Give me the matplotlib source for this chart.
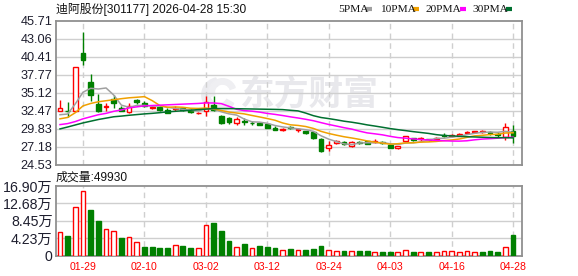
import matplotlib
matplotlib.use("Agg")
import matplotlib.pyplot as plt
from matplotlib.lines import Line2D
from matplotlib.patches import Wedge
import numpy as np

plt.rcParams['font.family'] = ['Liberation Sans', 'Noto Sans CJK SC']

# === DATA ===
dates = ["01-26", "01-27", "01-28", "01-29", "01-30", "02-02", "02-03", "02-04", "02-05", "02-06",
         "02-09", "02-10", "02-11", "02-12", "02-13", "02-24", "02-25", "02-26", "02-27", "03-02",
         "03-03", "03-04", "03-05", "03-06", "03-09", "03-10", "03-11", "03-12", "03-13", "03-16",
         "03-17", "03-18", "03-19", "03-20", "03-23", "03-24", "03-25", "03-26", "03-27", "03-30",
         "03-31", "04-01", "04-02", "04-03", "04-07", "04-08", "04-09", "04-10", "04-13", "04-14",
         "04-15", "04-16", "04-17", "04-20", "04-21", "04-22", "04-23", "04-24", "04-27", "04-28"]
shown_dates = ["01-29", "02-10", "03-02", "03-12", "03-24", "04-03", "04-16", "04-28"]

opens = [32.41, 32.50, 32.50, 40.90, 36.65, 33.50, 33.05, 34.20, 32.90, 32.35,
         34.10, 33.65, 32.95, 33.00, 32.60, 32.75, 32.90, 32.65, 32.10, 32.50,
         33.30, 31.70, 31.40, 30.75, 31.05, 30.75, 30.70, 30.55, 29.95, 29.60,
         30.05, 29.70, 29.45, 29.30, 28.35, 27.00, 27.76, 27.90, 27.25, 27.95,
         28.00, 27.90, 27.85, 27.50, 26.95, 28.10, 28.50, 28.30, 28.30, 28.40,
         28.95, 28.75, 28.85, 29.20, 29.30, 29.40, 29.35, 29.10, 28.65, 29.50]
closes = [32.90, 32.42, 38.85, 39.92, 34.75, 32.40, 33.20, 33.65, 32.50, 33.20,
          33.75, 33.25, 33.10, 32.65, 32.20, 32.90, 32.65, 32.30, 32.20, 33.80,
          32.65, 30.70, 30.80, 31.30, 30.85, 30.65, 30.45, 29.95, 29.70, 29.80,
          29.95, 29.80, 29.25, 28.50, 26.55, 27.50, 28.00, 27.60, 27.90, 27.80,
          27.65, 28.05, 27.70, 27.00, 27.25, 28.75, 28.20, 28.45, 28.20, 28.55,
          28.85, 29.00, 29.10, 29.40, 29.50, 29.55, 29.25, 28.95, 30.05, 28.80]
highs = [34.08, 33.79, 38.85, 44.03, 37.80, 35.00, 33.60, 34.75, 33.20, 33.55,
         34.25, 33.85, 33.25, 33.20, 32.85, 33.25, 33.05, 32.75, 32.30, 34.60,
         34.60, 31.80, 31.50, 31.55, 31.45, 31.05, 30.85, 30.70, 30.20, 29.95,
         30.20, 29.97, 29.55, 29.50, 28.50, 28.00, 28.15, 28.10, 28.10, 28.10,
         28.10, 28.30, 28.00, 27.75, 27.30, 28.80, 28.55, 28.60, 28.40, 28.65,
         29.25, 29.10, 29.20, 29.45, 29.55, 29.70, 29.50, 29.30, 30.65, 30.40]
lows = [32.41, 31.53, 32.50, 39.18, 33.90, 32.30, 32.40, 32.90, 32.40, 32.15,
        33.40, 33.10, 32.70, 32.50, 32.10, 32.50, 32.50, 32.10, 32.05, 31.65,
        32.50, 30.50, 30.60, 30.45, 30.45, 30.40, 30.35, 29.90, 29.60, 29.55,
        29.80, 29.30, 29.10, 28.40, 26.40, 26.55, 27.65, 27.40, 27.10, 27.60,
        27.55, 27.70, 27.55, 26.95, 26.90, 28.05, 28.05, 28.10, 28.10, 28.30,
        28.60, 28.60, 28.75, 29.10, 29.20, 29.25, 29.00, 28.60, 28.20, 27.80]

ma5 = [31.90, 32.00, 33.50, 35.20, 35.77, 35.67, 35.82, 34.78, 33.30, 32.99,
       33.26, 33.27, 33.16, 33.19, 32.99, 32.82, 32.70, 32.54, 32.45, 32.77,
       32.72, 32.33, 32.03, 31.85, 31.26, 30.86, 30.81, 30.64, 30.32, 30.11,
       29.97, 29.84, 29.70, 29.46, 28.81, 28.32, 27.96, 27.63, 27.51, 27.76,
       27.79, 27.80, 27.82, 27.64, 27.53, 27.75, 27.78, 27.93, 28.17, 28.43,
       28.45, 28.61, 28.74, 28.98, 29.17, 29.31, 29.36, 29.33, 29.46, 29.32]
ma10 = [31.30, 31.50, 32.20, 33.20, 33.55, 33.80, 33.95, 34.10, 34.25, 34.38,
        34.46, 34.55, 33.97, 33.25, 32.99, 33.04, 32.99, 32.85, 32.82, 32.88,
        32.77, 32.52, 32.29, 32.15, 32.02, 31.79, 31.57, 31.34, 31.09, 30.69,
        30.42, 30.33, 30.17, 29.89, 29.46, 29.15, 28.90, 28.67, 28.49, 28.29,
        28.06, 27.88, 27.73, 27.58, 27.65, 27.77, 27.79, 27.88, 27.91, 27.98,
        28.10, 28.20, 28.34, 28.58, 28.80, 28.88, 28.99, 29.04, 29.22, 29.25]
ma20 = [30.45, 30.60, 30.90, 31.30, 31.60, 31.90, 32.10, 32.40, 32.60, 32.90,
        33.05, 33.20, 33.25, 33.30, 33.35, 33.40, 33.45, 33.50, 33.55, 33.63,
        33.62, 33.53, 33.13, 32.70, 32.50, 32.42, 32.28, 32.09, 31.95, 31.78,
        31.59, 31.42, 31.23, 31.02, 30.74, 30.47, 30.24, 30.00, 29.79, 29.49,
        29.24, 29.10, 28.95, 28.73, 28.55, 28.46, 28.35, 28.27, 28.20, 28.13,
        28.08, 28.04, 28.03, 28.08, 28.22, 28.33, 28.39, 28.46, 28.56, 28.61]
ma30 = [29.82, 30.10, 30.40, 30.70, 30.95, 31.20, 31.40, 31.60, 31.70, 31.82,
        31.92, 32.02, 32.10, 32.20, 32.32, 32.40, 32.48, 32.56, 32.65, 32.72,
        32.80, 32.80, 32.80, 32.78, 32.76, 32.74, 32.72, 32.70, 32.68, 32.65,
        32.55, 32.46, 32.14, 31.76, 31.49, 31.33, 31.15, 30.95, 30.80, 30.62,
        30.41, 30.24, 30.06, 29.87, 29.71, 29.57, 29.42, 29.29, 29.16, 28.98,
        28.86, 28.80, 28.74, 28.68, 28.64, 28.60, 28.56, 28.53, 28.54, 28.50]

volumes = [56800, 47900, 117700, 156700, 111200, 84400, 64100, 59300, 43000, 44700,
           32500, 21100, 21100, 18700, 18700, 25200, 23500, 18700, 17900, 73900,
           78000, 60100, 35700, 20300, 28400, 17900, 23500, 21100, 18700, 13000,
           16200, 13000, 13800, 16200, 23500, 13000, 10600, 11400, 10600, 11400,
           11400, 8100, 8900, 8900, 8100, 13000, 8900, 8100, 8900, 8100,
           10600, 10600, 8100, 10600, 8100, 8900, 11400, 8900, 20300, 49930]
# 1 = up day (red), 0 = down day (green) as shown on the volume bars
vol_up = [1, 0, 1, 1, 0, 0, 1, 1, 0, 1,
          1, 0, 0, 0, 0, 1, 0, 0, 1, 1,
          0, 0, 0, 1, 0, 1, 0, 0, 0, 1,
          0, 1, 0, 0, 0, 1, 1, 0, 1, 0,
          0, 1, 0, 0, 1, 1, 0, 1, 0, 1,
          1, 1, 1, 1, 1, 0, 0, 0, 1, 0]

price_ticks = ["24.53", "27.18", "29.83", "32.47", "35.12", "37.77", "40.41", "43.06", "45.71"]
vol_ticks = [0, 42245, 84490, 126735, 168980]
vol_labels = ["0", "4.23万", "8.45万", "12.68万", "16.90万"]

title = "迪阿股份[301177] 2026-04-28 15:30"
vol_title = "成交量:49930"

RED = "#ff0000"
GREEN = "#008000"
GRID = "#cfcfcf"
FRAME = "#909090"
ma_colors = {"5PMA": "#a0a0a0", "10PMA": "#f0a000", "20PMA": "#ff00ff", "30PMA": "#007030"}

# === FIGURE ===
W, H = 578, 276
fig = plt.figure(figsize=(W / 100, H / 100), dpi=100, facecolor="white")

def box(l, t, r, b):
    return [l / W, 1 - b / H, (r - l) / W, (b - t) / H]

ax = fig.add_axes(box(56, 20.5, 522, 165))
axv = fig.add_axes(box(56, 186, 522, 255.5))

x = np.arange(len(dates))
o, c, h, l = map(np.array, (opens, closes, highs, lows))
up = c >= o

# watermark logo + text behind the price panel
logo = fig.add_axes(box(199, 76, 237, 112))
logo.set_xlim(-1, 1); logo.set_ylim(-1, 1); logo.set_aspect("equal"); logo.axis("off")
logo.add_patch(Wedge((0.05, -0.05), 0.95, 100, 330, width=0.45, color="#ececf0"))
logo.add_patch(Wedge((0.25, 0.1), 0.75, 20, 200, width=0.3, color="#efeff2"))
logo.set_zorder(0)
ax.set_zorder(1)
ax.patch.set_visible(False)
fig.text(240 / W, 1 - 94 / H, "东方财富", fontsize=25, fontweight="bold",
         color="#e8e8ec", va="center", ha="left", family=["Noto Sans CJK SC"], zorder=0)

# candles
ax.vlines(x, l, h, colors=np.where(up, RED, GREEN), lw=1, zorder=3)
body = np.maximum(np.abs(c - o), 0.05)
ax.bar(x, body, bottom=np.minimum(o, c), width=0.62,
       facecolor=np.where(up, "white", GREEN), edgecolor=np.where(up, RED, GREEN),
       lw=1, zorder=4)

for (name, col), ma in zip(ma_colors.items(), (ma5, ma10, ma20, ma30)):
    ax.plot(x, ma, color=col, lw=1.1, zorder=5)

# volume
vu = np.array(vol_up) == 1
axv.bar(x, volumes, width=0.62, facecolor=np.where(vu, "white", GREEN),
        edgecolor=np.where(vu, RED, GREEN), lw=1, zorder=3)

xmin, xmax = -0.52, 60.17
tick_idx = [dates.index(d) for d in shown_dates]
for a in (ax, axv):
    a.set_xlim(xmin, xmax)
    for s in a.spines.values():
        s.set_color(FRAME)
        s.set_linewidth(1.3)
    a.tick_params(length=0)
    for t in tick_idx:
        a.axvline(t, color=GRID, lw=1, ls=(0, (4, 3)), zorder=1)

ax.set_ylim(float(price_ticks[0]), float(price_ticks[-1]))
ax.set_yticks([float(v) for v in price_ticks])
ax.set_yticklabels(price_ticks, fontsize=9.2, color="#1e1e2e")
ax.tick_params(axis="y", pad=2.5)
ax.set_xticks([])
for v in price_ticks[1:-1]:
    ax.axhline(float(v), color=GRID, lw=1, zorder=1)

axv.set_ylim(0, vol_ticks[-1])
axv.set_yticks(vol_ticks)
axv.set_yticklabels(vol_labels, fontsize=10.2, color="#1e1e2e")
axv.tick_params(axis="y", pad=2.5)
for v in vol_ticks[1:-1]:
    axv.axhline(v, color=GRID, lw=1, zorder=1)
axv.set_xticks(tick_idx)
axv.set_xticklabels(shown_dates, fontsize=7.6, color=RED)
axv.tick_params(axis="x", pad=5)

# header texts
fig.text(56 / W, 1 - 9 / H, title, fontsize=8.6, color="#111", va="center", ha="left")
fig.text(56 / W, 1 - 178 / H, vol_title, fontsize=8.6, color="#111", va="center", ha="left")

# legend: label, then a short coloured dash
lx = [338, 380, 426, 472]
dash_x = [366, 413, 460, 506]
for (name, col), px, dx in zip(ma_colors.items(), lx, dash_x):
    fig.text(px / W, 1 - 9 / H, name, fontsize=8.2, color="#111", va="center", ha="left",
             family=["Liberation Serif"])
    fig.add_artist(Line2D([dx / W, (dx + 6) / W], [1 - 8.5 / H] * 2, color=col, lw=3,
                          solid_capstyle="butt"))

plt.savefig("out.png", dpi=100, facecolor="white")
